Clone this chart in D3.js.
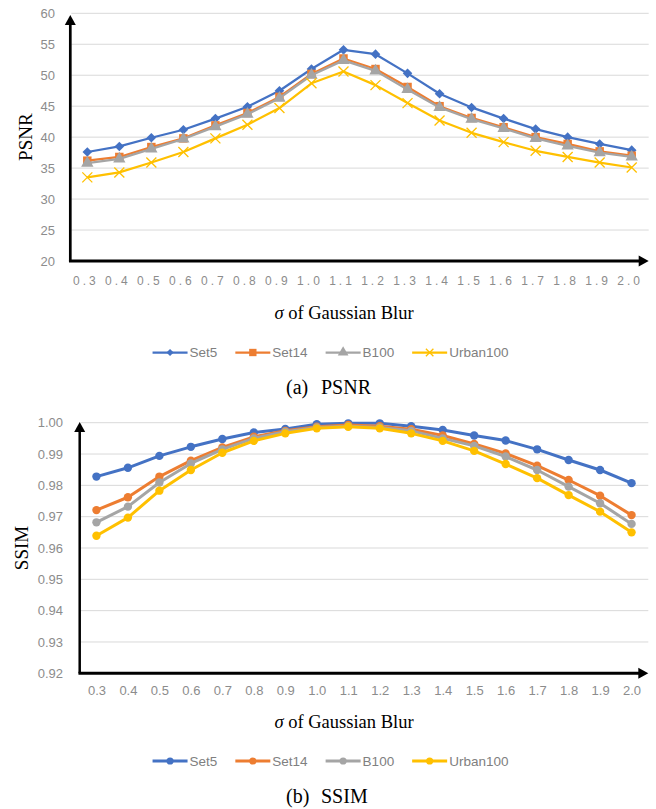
<!DOCTYPE html>
<html>
<head>
<meta charset="utf-8">
<script src="https://cdn.jsdelivr.net/npm/d3@7"></script>
<style>
  body { margin: 0; background: #fff; }
  text { font-family: "Liberation Sans", Arial, sans-serif; }
</style>
</head>
<body>
<div id="chart"></div>
<script>
// Data
var sigmas = ["0.3", "0.4", "0.5", "0.6", "0.7", "0.8", "0.9", "1.0", "1.1",
  "1.2", "1.3", "1.4", "1.5", "1.6", "1.7", "1.8", "1.9", "2.0"];
var seriesNames = ["Set5", "Set14", "B100", "Urban100"];
var seriesColors = ["#4472C4", "#ED7D31", "#A5A5A5", "#FFC000"];

var psnrSet5 = [37.6, 38.5, 39.9, 41.2, 43.0, 44.9, 47.5, 51.0, 54.1, 53.4, 50.3, 47.0, 44.8, 43.0, 41.3, 40.0, 38.9, 37.9];
var psnrSet14 = [36.2, 36.8, 38.4, 39.8, 41.9, 43.9, 46.5, 50.2, 52.7, 51.0, 48.1, 45.0, 43.1, 41.6, 40.0, 38.9, 37.7, 37.0];
var psnrB100 = [35.8, 36.5, 38.1, 39.7, 41.7, 43.7, 46.3, 50.0, 52.4, 50.7, 47.7, 44.8, 42.9, 41.4, 39.8, 38.6, 37.5, 36.8];
var psnrUrban100 = [33.5, 34.3, 35.9, 37.6, 39.8, 42.0, 44.7, 48.7, 50.6, 48.4, 45.5, 42.7, 40.7, 39.2, 37.8, 36.8, 35.9, 35.1];

var ssimSet5 = [0.9828, 0.9856, 0.9894, 0.9923, 0.9948, 0.9969, 0.9980, 0.9995, 0.9998, 0.9998, 0.9989, 0.9977, 0.9959, 0.9943, 0.9915, 0.9881, 0.9849, 0.9807];
var ssimSet14 = [0.9721, 0.9762, 0.9828, 0.9879, 0.9921, 0.9955, 0.9974, 0.9987, 0.9993, 0.9989, 0.9979, 0.9959, 0.9932, 0.9902, 0.9863, 0.9817, 0.9767, 0.9705];
var ssimB100 = [0.9682, 0.9732, 0.9809, 0.9870, 0.9915, 0.9950, 0.9971, 0.9985, 0.9989, 0.9985, 0.9974, 0.9950, 0.9926, 0.9892, 0.9849, 0.9796, 0.9743, 0.9677];
var ssimUrban100 = [0.9639, 0.9697, 0.9783, 0.9849, 0.9904, 0.9942, 0.9966, 0.9982, 0.9987, 0.9982, 0.9966, 0.9942, 0.9910, 0.9868, 0.9823, 0.9769, 0.9716, 0.9650];

var psnrTicks = [20, 25, 30, 35, 40, 45, 50, 55, 60];
var ssimTicks = [0.92, 0.93, 0.94, 0.95, 0.96, 0.97, 0.98, 0.99, 1.00];

var svgWidth = 656;
var svgHeight = 809;
var gray = "#8c8c8c";
var serif = "'Liberation Serif', 'Times New Roman', serif";

var svg = d3.select("#chart")
  .append("svg")
  .attr("width", svgWidth)
  .attr("height", svgHeight);

// draws one of the two panels
function drawPanel(cfg) {
  var g = svg.append("g");

  var x = d3.scalePoint()
    .domain(sigmas)
    .range([cfg.left, cfg.right])
    .padding(0.5);

  var y = d3.scaleLinear()
    .domain([cfg.ticks[0], cfg.ticks[cfg.ticks.length - 1]])
    .range([cfg.bottom, cfg.top]);

  // gridlines
  g.selectAll(".grid")
    .data(cfg.ticks.slice(1))
    .enter()
    .append("line")
    .attr("x1", cfg.left)
    .attr("x2", cfg.right + 1)
    .attr("y1", d => y(d))
    .attr("y2", d => y(d))
    .attr("stroke", "#d9d9d9")
    .attr("stroke-width", 1);

  // y tick labels
  var yAxis = d3.axisLeft(y).tickValues(cfg.ticks).tickFormat(cfg.fmt).tickSize(0).tickPadding(0);
  var yg = g.append("g")
    .attr("transform", `translate(${cfg.yLabelX},0)`)
    .call(yAxis);
  yg.select(".domain").remove();
  yg.selectAll("text")
    .attr("fill", gray)
    .style("font-size", "13px");

  // x tick labels
  var xAxis = d3.axisBottom(x).tickSize(0).tickPadding(0);
  var xg = g.append("g")
    .attr("transform", `translate(0,${cfg.xLabelY})`)
    .call(xAxis);
  xg.select(".domain").remove();
  xg.selectAll("text")
    .attr("fill", gray)
    .attr("dy", "0.35em")
    .attr("dx", cfg.xLabelDx)
    .style("font-size", cfg.xLabelSize)
    .style("letter-spacing", cfg.letterSpacing);

  // lines
  var line = d3.line()
    .x((d, i) => x(sigmas[i]))
    .y(d => y(d));

  cfg.series.forEach(function(values, k) {
    g.append("path")
      .datum(values)
      .attr("fill", "none")
      .attr("stroke", seriesColors[k])
      .attr("stroke-width", cfg.lineWidth)
      .attr("stroke-linejoin", "round")
      .attr("d", line);

    g.selectAll(".m" + k)
      .data(values)
      .enter()
      .append("path")
      .attr("transform", (d, i) => `translate(${x(sigmas[i])},${y(d)})`)
      .each(function() { cfg.marker(d3.select(this), k); });
  });

  // axes with arrows
  var ax = cfg.left - 1;
  g.append("line")
    .attr("x1", ax).attr("x2", ax)
    .attr("y1", cfg.bottom).attr("y2", cfg.arrowTop + 8)
    .attr("stroke", "#000").attr("stroke-width", cfg.axisWidth);
  g.append("path")
    .attr("d", `M${ax},${cfg.arrowTop} L${ax - 5.5},${cfg.arrowTop + 10} L${ax + 5.5},${cfg.arrowTop + 10} Z`)
    .attr("fill", "#000");
  g.append("line")
    .attr("x1", ax - cfg.axisWidth / 2).attr("x2", cfg.right - 8)
    .attr("y1", cfg.bottom).attr("y2", cfg.bottom)
    .attr("stroke", "#000").attr("stroke-width", 3);
  g.append("path")
    .attr("d", `M${cfg.right + 1},${cfg.bottom} L${cfg.right - 9},${cfg.bottom - 5.5} L${cfg.right - 9},${cfg.bottom + 5.5} Z`)
    .attr("fill", "#000");

  // y axis title
  g.append("text")
    .attr("transform", `translate(${cfg.yTitleX},${(cfg.top + cfg.bottom) / 2}) rotate(-90)`)
    .attr("text-anchor", "middle")
    .attr("dy", "0.35em")
    .style("font-family", serif)
    .style("font-size", "19px")
    .text(cfg.yTitle);

  // x axis title
  var xt = g.append("text")
    .attr("x", 344)
    .attr("y", cfg.xTitleY)
    .attr("text-anchor", "middle")
    .style("font-family", serif)
    .style("font-size", "18.5px");
  xt.append("tspan").style("font-style", "italic").text("σ");
  xt.append("tspan").text(" of Gaussian Blur");

  // legend
  var lg = g.append("g");
  var pos = 0;
  seriesNames.forEach(function(name, k) {
    lg.append("line")
      .attr("x1", pos).attr("x2", pos + 35)
      .attr("y1", 0).attr("y2", 0)
      .attr("stroke", seriesColors[k])
      .attr("stroke-width", cfg.lineWidth);
    var m = lg.append("path").attr("transform", `translate(${pos + 17.5},0)`);
    cfg.marker(m, k, true);
    var t = lg.append("text")
      .attr("x", pos + 37)
      .attr("dy", "0.35em")
      .attr("fill", "#808080")
      .style("font-size", "13.5px")
      .text(name);
    pos += 37 + t.node().getComputedTextLength() + 18;
  });
  pos -= 18;
  lg.attr("transform", `translate(${330.5 - pos / 2},${cfg.legendY})`);

  // caption
  g.append("text")
    .attr("x", 286)
    .attr("y", cfg.captionY)
    .style("font-family", serif)
    .style("font-size", "20px")
    .text(cfg.captionA);
  g.append("text")
    .attr("x", 321)
    .attr("y", cfg.captionY)
    .style("font-family", serif)
    .style("font-size", "20px")
    .text(cfg.captionB);
}

// PSNR markers: diamond, square, triangle, cross
function psnrMarker(sel, k, small) {
  var s = small ? 0.75 : 1;
  var c = seriesColors[k];
  if (k === 0) {
    var r = 4.8 * s;
    sel.attr("d", `M0,${-r}L${r},0L0,${r}L${-r},0Z`).attr("fill", c);
  } else if (k === 1) {
    sel.attr("d", d3.symbol(d3.symbolSquare, 72 * s)()).attr("fill", c);
  } else if (k === 2) {
    sel.attr("d", d3.symbol(d3.symbolTriangle, 66 * s)()).attr("fill", c);
  } else {
    var q = 5 * s;
    sel.attr("d", `M${-q},${-q}L${q},${q}M${-q},${q}L${q},${-q}`)
      .attr("fill", "none").attr("stroke", c).attr("stroke-width", 1.3);
  }
}

function ssimMarker(sel, k, small) {
  sel.attr("d", d3.symbol(d3.symbolCircle, small ? 40 : 55)()).attr("fill", seriesColors[k]);
}

drawPanel({
  left: 71.3, right: 647.7, top: 13.3, bottom: 261, arrowTop: 15,
  ticks: psnrTicks, fmt: d3.format("d"),
  series: [psnrSet5, psnrSet14, psnrB100, psnrUrban100],
  marker: psnrMarker, lineWidth: 2.25, axisWidth: 2.7,
  yLabelX: 55, xLabelY: 281, xLabelDx: "-2", xLabelSize: "12px", letterSpacing: "3px",
  yTitleX: 25, yTitle: "PSNR", xTitleY: 319,
  legendY: 352.5, captionY: 394, captionA: "(a)", captionB: "PSNR"
});

drawPanel({
  left: 80.7, right: 647.3, top: 422.7, bottom: 673.3, arrowTop: 422,
  ticks: ssimTicks, fmt: d3.format(".2f"),
  series: [ssimSet5, ssimSet14, ssimB100, ssimUrban100],
  marker: ssimMarker, lineWidth: 3, axisWidth: 2.5,
  yLabelX: 63, xLabelY: 690, xLabelDx: "0", xLabelSize: "13px", letterSpacing: "0px",
  yTitleX: 21.5, yTitle: "SSIM", xTitleY: 728,
  legendY: 761, captionY: 803, captionA: "(b)", captionB: "SSIM"
});
</script>
</body>
</html>
